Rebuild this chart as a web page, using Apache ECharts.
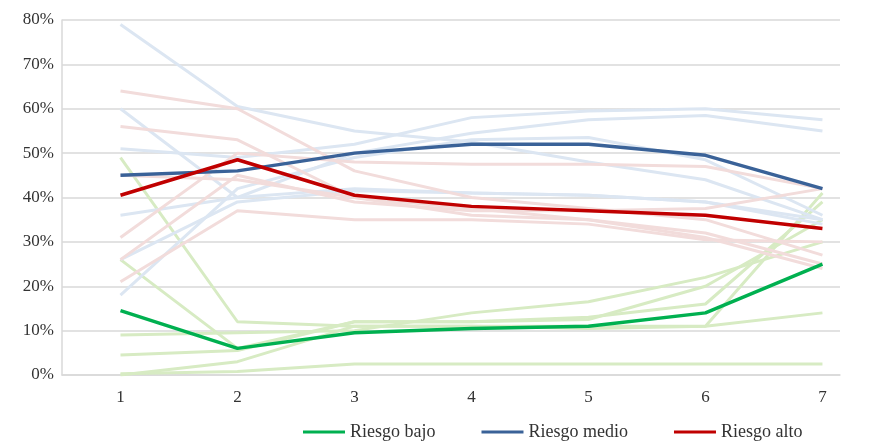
<!DOCTYPE html><html><head><meta charset="utf-8"><script src="https://cdn.jsdelivr.net/npm/echarts@6/dist/echarts.min.js"></script></head><body style="margin:0"><div id="c" style="width:873px;height:446px"></div><script>
const categories=[1,2,3,4,5,6,7];
const yTicks=[0,10,20,30,40,50,60,70,80];
const greenFaint=[[49,12,11,11,11,11,41],[26,6,12,12,13,16,39],[9,9.5,10,14,16.5,22,30],[4.5,5.5,12,12,12.5,20,35],[0.3,0.8,2.5,2.5,2.5,2.5,2.5],[0,3,11,11,10.5,11,14]];
const blueFaint=[[79,60.5,55,52.5,48,44,35],[60,40,42,41,40.5,39,34],[51,49,52,58,59.5,60,57.5],[36,40,50,54.5,57.5,58.5,55],[18,42,49,53,53.5,48.5,36],[26,39,41.5,41,40.5,39,35]];
const redFaint=[[64,60,46,40,37.5,35,27],[56,53,40,37.5,35,32,25],[45,44,40,36,35,31,24],[31,50,48,47.5,47.5,47,42],[26,45,39,37,37,37.5,42],[21,37,35,35,34,30.5,30]];
const bajo=[14.5,6,9.5,10.5,11,14,25];
const medio=[45,46,50,52,52,49.5,42];
const alto=[40.5,48.5,40.5,38,37,36,33];
const pts=a=>a.map((v,i)=>[categories[i],v]);
const series=[];
const faint=(arr,col)=>arr.forEach(a=>series.push({type:'line',data:pts(a),symbol:'none',silent:true,lineStyle:{color:col,width:3},z:1}));
faint(greenFaint,'#D7EBC3');faint(blueFaint,'#DCE6F2');faint(redFaint,'#F2DCDB');
const main=(n,a,c)=>series.push({name:n,type:'line',data:pts(a),symbol:'none',lineStyle:{color:c,width:3.5},itemStyle:{color:c},z:5});
main('Riesgo bajo',bajo,'#00B050');main('Riesgo medio',medio,'#3A6298');main('Riesgo alto',alto,'#C00000');
const f='Liberation Serif';
echarts.init(document.getElementById('c')).setOption({animation:false,
grid:{left:62,right:33,top:20,bottom:71},
legend:{bottom:0,left:298,data:['Riesgo bajo','Riesgo medio','Riesgo alto'],itemWidth:42,itemHeight:3,itemGap:46,icon:'rect',textStyle:{fontFamily:f,fontSize:18,color:'#333'}},
xAxis:{type:'value',min:0.5,max:7.15,interval:0.5,axisLine:{lineStyle:{color:'#d9d9d9',width:1.5}},axisTick:{show:false},splitLine:{show:false},
axisLabel:{fontFamily:f,fontSize:17,color:'#333',margin:14,showMinLabel:false,showMaxLabel:false,formatter:v=>Number.isInteger(v)&&categories.includes(v)?String(v):''}},
yAxis:{type:'value',min:yTicks[0],max:yTicks[yTicks.length-1],interval:10,axisTick:{show:false},axisLabel:{fontFamily:f,fontSize:17,color:'#333',formatter:'{value}%'},splitLine:{lineStyle:{color:'#d9d9d9',width:1.5}},axisLine:{show:true,lineStyle:{color:'#d9d9d9',width:1.5}}},
series});
</script></body></html>
